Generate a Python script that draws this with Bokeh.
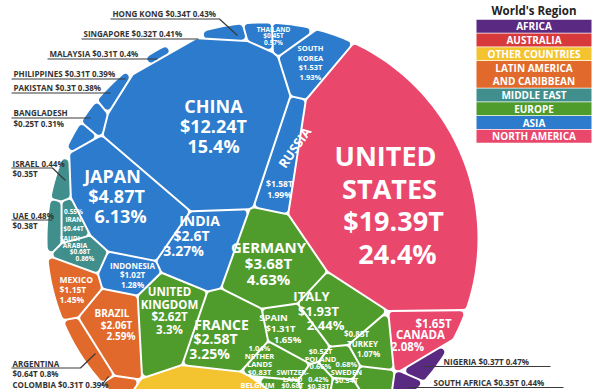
import math
from bokeh.plotting import figure
from bokeh.models import ColumnDataSource, Range1d
from bokeh.core.properties import value, field
from bokeh.embed import file_html
from bokeh.resources import INLINE

# ---------------- data ----------------
regions = ["AFRICA", "AUSTRALIA", "OTHER COUNTRIES", "LATIN AMERICA AND CARIBBEAN",
           "MIDDLE EAST", "EUROPE", "ASIA", "NORTH AMERICA"]
region_colors = ["#5a2a82", "#d8393a", "#f4c430", "#e0692b",
                 "#418f8c", "#4f9c2c", "#2c7bcc", "#e9476c"]

countries = ["UNITED STATES", "CANADA",
             "CHINA", "JAPAN", "INDIA", "RUSSIA", "SOUTH KOREA", "INDONESIA", "THAILAND",
             "HONG KONG", "SINGAPORE", "MALAYSIA", "PHILIPPINES", "PAKISTAN", "BANGLADESH",
             "SAUDI ARABIA", "IRAN", "UAE", "ISRAEL",
             "GERMANY", "UNITED KINGDOM", "FRANCE", "ITALY", "SPAIN", "TURKEY", "NETHERLANDS",
             "SWITZERLAND", "SWEDEN", "POLAND", "BELGIUM", "IRELAND",
             "BRAZIL", "MEXICO", "ARGENTINA", "COLOMBIA",
             "NIGERIA", "SOUTH AFRICA",
             "AUSTRALIA", "OTHER COUNTRIES"]
country_region = ["NORTH AMERICA", "NORTH AMERICA",
                  "ASIA", "ASIA", "ASIA", "ASIA", "ASIA", "ASIA", "ASIA",
                  "ASIA", "ASIA", "ASIA", "ASIA", "ASIA", "ASIA",
                  "MIDDLE EAST", "MIDDLE EAST", "MIDDLE EAST", "MIDDLE EAST",
                  "EUROPE", "EUROPE", "EUROPE", "EUROPE", "EUROPE", "EUROPE", "EUROPE",
                  "EUROPE", "EUROPE", "EUROPE", "EUROPE", "EUROPE",
                  "LATIN AMERICA AND CARIBBEAN", "LATIN AMERICA AND CARIBBEAN",
                  "LATIN AMERICA AND CARIBBEAN", "LATIN AMERICA AND CARIBBEAN",
                  "AFRICA", "AFRICA",
                  "AUSTRALIA", "OTHER COUNTRIES"]
gdp_trillions = [19.39, 1.65,
                 12.24, 4.87, 2.6, 1.58, 1.53, 1.02, 0.45,
                 0.34, 0.32, 0.31, 0.31, 0.3, 0.25,
                 0.68, 0.44, 0.38, 0.35,
                 3.68, 2.62, 2.58, 1.93, 1.31, 0.85, 0.83,
                 0.68, 0.54, 0.52, 0.49, 0.33,
                 2.06, 1.15, 0.64, 0.31,
                 0.37, 0.35,
                 None, None]
gdp_share_pct = [24.4, 2.08,
                 15.4, 6.13, 3.27, 1.99, 1.93, 1.28, 0.57,
                 0.43, 0.41, 0.4, 0.39, 0.38, 0.31,
                 0.86, 0.55, 0.48, 0.44,
                 4.63, 3.3, 3.25, 2.44, 1.65, 1.07, 1.04,
                 0.86, 0.68, 0.66, 0.62, 0.42,
                 2.59, 1.45, 0.8, 0.39,
                 0.47, 0.44,
                 1.7, 7.6]

# ---------------- layout ----------------
WIDTH, HEIGHT = 600, 389
CX, CY, RAD = 262.0, 238.0, 216.0
GAP, CORNER = 2.0, 3.5

SITES = {
    "UNITED STATES": (400, 165), "CANADA": (402, 335),
    "CHINA": (200, 118), "JAPAN": (140, 188), "INDIA": (204, 232), "RUSSIA": (290, 148),
    "SOUTH KOREA": (305, 85), "INDONESIA": (124, 268), "THAILAND": (270, 36),
    "HONG KONG": (236, 37), "SINGAPORE": (204, 46), "MALAYSIA": (167, 60),
    "PHILIPPINES": (138, 79), "PAKISTAN": (116, 97), "BANGLADESH": (100, 116),
    "SAUDI ARABIA": (84, 250), "IRAN": (76, 221), "UAE": (55, 221), "ISRAEL": (63, 191),
    "GERMANY": (268, 255), "UNITED KINGDOM": (170, 315), "FRANCE": (228, 335),
    "ITALY": (314, 298), "SPAIN": (278, 325), "TURKEY": (350, 340), "NETHERLANDS": (258, 362),
    "SWITZERLAND": (290, 385), "SWEDEN": (346, 372), "POLAND": (320, 357),
    "BELGIUM": (255, 395), "IRELAND": (318, 390),
    "BRAZIL": (114, 318), "MEXICO": (72, 283), "ARGENTINA": (82, 338), "COLOMBIA": (105, 378),
    "NIGERIA": (415, 357), "SOUTH AFRICA": (405, 380),
    "AUSTRALIA": (335, 440), "OTHER COUNTRIES": (215, 450),
}

# in-cell labels: x, y, font px, line height, order, slant, align, name lines
LABELS = {
    "UNITED STATES": (391, 204, 27, 32.5, "NVP", 4, "center", ["UNITED", "STATES"]),
    "CANADA": (420, 334, 11.5, 11.5, "VNP", -13, "center", None),
    "CHINA": (213, 125, 18, 20, "NVP", 0, "center", None),
    "JAPAN": (116, 195, 18, 20, "NVP", 4, "center", None),
    "INDIA": (191, 235, 14, 15, "NVP", -8, "center", None),
    "RUSSIA": (279, 188.5, 8.5, 11, "VP", 0, "center", None),
    "SOUTH KOREA": (310, 62, 7.5, 9.5, "NVP", 0, "center", ["SOUTH", "KOREA"]),
    "INDONESIA": (132, 274, 8, 9.5, "NVP", 0, "center", None),
    "THAILAND": (273, 35, 6.5, 6.5, "NVP", 0, "center", None),
    "SAUDI ARABIA": (77, 248, 6.5, 6.7, "NVP", 5, "center", ["SAUDI", "ARABIA"]),
    "IRAN": (73, 219, 6.5, 8.5, "PNV", 0, "center", None),
    "GERMANY": (268, 262, 15, 16, "NVP", 0, "center", None),
    "UNITED KINGDOM": (169, 310, 11.5, 12.4, "NVP", 0, "center", ["UNITED", "KINGDOM"]),
    "FRANCE": (215, 338, 14, 14.5, "NVP", -6, "center", None),
    "ITALY": (318, 310, 13, 14.5, "NVP", 7, "center", None),
    "SPAIN": (280, 328, 9.5, 11, "NVP", 7, "center", None),
    "TURKEY": (362, 343, 8, 10, "VNP", 6, "center", None),
    "NETHERLANDS": (259, 359, 7.5, 8, "PNV", 0, "center", ["NETHER", "LANDS"]),
    "SWITZERLAND": (292, 378.5, 7, 6.5, "NV", 0, "center", ["SWITZER-", "LAND"]),
    "SWEDEN": (346, 371, 7.5, 8, "PNV", 0, "center", None),
    "POLAND": (320, 358, 7.5, 7.5, "VNP", 0, "center", None),
    "BELGIUM": (257, 384, 7.5, 8, "N", 0, "center", None),
    "IRELAND": (318, 382, 7, 7, "PV", 0, "center", None),
    "BRAZIL": (116, 324, 10, 11.5, "NVP", 4.5, "center", None),
    "MEXICO": (59, 289, 8.5, 10, "NVP", 0, "left", None),
}
ROTATED_NAMES = {"RUSSIA": (294, 147, 13, 55)}

# outside annotations: text lines (x, y, template), underline+leader path
ANNOT = {
    "HONG KONG": ([(112, 13, "{n}  {v}  {p}")], [(110, 18.5), (219, 18.5), (237, 35)]),
    "SINGAPORE": ([(83, 33, "{n} {v}  {p}")], [(81, 38.5), (198, 38.5)]),
    "MALAYSIA": ([(49, 53, "{n}  {v}  {p}")], [(47, 58.5), (157, 58.5)]),
    "PHILIPPINES": ([(13, 73, "{n} {v}  {p}")], [(11, 78.5), (125, 78.5)]),
    "PAKISTAN": ([(13, 87, "{n}  {v}  {p}")], [(11, 92.5), (110, 92.5)]),
    "BANGLADESH": ([(13, 112, "{n}"), (13, 123, "{v}  {p}")], [(11, 117.5), (90, 117.5)]),
    "ISRAEL": ([(12, 162.5, "{n} {p}"), (12, 173, "{v}")], [(11, 167.5), (52, 167.5), (65, 180)]),
    "UAE": ([(12, 214.5, "{n} {p}"), (12, 225, "{v}")], [(11, 219.5), (52, 219.5)]),
    "ARGENTINA": ([(12, 362.5, "{n}"), (12, 373, "{v} {p}")], [(11, 367.5), (80, 367.5), (95, 353)]),
    "COLOMBIA": ([(12, 384, "{n} {v} {p}")], [(101, 385), (108, 376)]),
    "NIGERIA": ([(443, 360.5, "{n} {v} {p}")], [(423, 366), (550, 366)]),
    "SOUTH AFRICA": ([(433, 381.5, "{n} {v} {p}")], [(408, 387), (563, 387)]),
}

LEG_X0, LEG_X1, LEG_Y0, LEG_PITCH = 476, 591, 19.3, 13.75
LEGEND_LINES = {"LATIN AMERICA AND CARIBBEAN": ["LATIN AMERICA", "AND CARIBBEAN"]}

# ---------------- geometry: power diagram in a circle ----------------
def clip(poly, a, b, c, lab):
    out = []
    n = len(poly)
    for k in range(n):
        x1, y1, l1 = poly[k]
        x2, y2, _ = poly[(k + 1) % n]
        d1 = a * x1 + b * y1 - c
        d2 = a * x2 + b * y2 - c
        if d1 <= 0:
            out.append((x1, y1, l1))
            if d2 > 0:
                t = d1 / (d1 - d2)
                out.append((x1 + t * (x2 - x1), y1 + t * (y2 - y1), lab))
        elif d2 <= 0:
            t = d1 / (d1 - d2)
            out.append((x1 + t * (x2 - x1), y1 + t * (y2 - y1), l1))
    return out


def seg_area(ax, ay, bx, by, r):
    da = math.hypot(ax, ay)
    db = math.hypot(bx, by)
    if da <= r and db <= r:
        return 0.5 * (ax * by - ay * bx)

    def sector(px, py, qx, qy):
        return 0.5 * r * r * math.atan2(px * qy - py * qx, px * qx + py * qy)
    dx, dy = bx - ax, by - ay
    A = dx * dx + dy * dy
    if A == 0:
        return 0.0
    B = ax * dx + ay * dy
    C = ax * ax + ay * ay - r * r
    disc = B * B - A * C
    if disc <= 0:
        return sector(ax, ay, bx, by)
    sq = math.sqrt(disc)
    t1 = (-B - sq) / A
    t2 = (-B + sq) / A
    if t1 >= 1 or t2 <= 0:
        return sector(ax, ay, bx, by)
    t1c, t2c = max(t1, 0.0), min(t2, 1.0)
    p1x, p1y = ax + t1c * dx, ay + t1c * dy
    p2x, p2y = ax + t2c * dx, ay + t2c * dy
    res = 0.5 * (p1x * p2y - p1y * p2x)
    if t1 > 0:
        res += sector(ax, ay, p1x, p1y)
    if t2 < 1:
        res += sector(p2x, p2y, bx, by)
    return res


def disk_area(P):
    s = 0.0
    n = len(P)
    for k in range(n):
        x1, y1, _ = P[k]
        x2, y2, _ = P[(k + 1) % n]
        s += seg_area(x1 - CX, y1 - CY, x2 - CX, y2 - CY, RAD)
    return abs(s)


S = [SITES[c] for c in countries]
N = len(S)
dist = [[max(math.hypot(S[i][0] - S[j][0], S[i][1] - S[j][1]), 1e-3) for j in range(N)]
        for i in range(N)]
order = [sorted([j for j in range(N) if j != i], key=lambda j: dist[i][j]) for i in range(N)]
BOX = [(CX - RAD - 2, CY - RAD - 2, -1), (CX + RAD + 2, CY - RAD - 2, -1),
       (CX + RAD + 2, CY + RAD + 2, -1), (CX - RAD - 2, CY + RAD + 2, -1)]


def power_cell(i, Wt):
    xi, yi = S[i]
    P = BOX
    for j in order[i]:
        xj, yj = S[j]
        a = 2 * (xj - xi)
        b = 2 * (yj - yi)
        c = (xj * xj + yj * yj) - (xi * xi + yi * yi) - Wt[j] + Wt[i]
        P = clip(P, a, b, c, j)
        if not P:
            break
    return P


tot = sum(gdp_share_pct)
TARGET = [s / tot * math.pi * RAD * RAD for s in gdp_share_pct]
Wt = [0.0] * N
for it in range(180):
    newW = Wt[:]
    for i in range(N):
        P = power_cell(i, Wt)
        if len(P) < 3:
            newW[i] = Wt[i] + TARGET[i]
            continue
        A = disk_area(P)
        D = 0.0
        for k in range(len(P)):
            x1, y1, l = P[k]
            x2, y2, _ = P[(k + 1) % len(P)]
            if l >= 0:
                D += math.hypot(x2 - x1, y2 - y1) / (2 * dist[i][l])
        newW[i] = Wt[i] + 0.5 * (TARGET[i] - A) / max(D, 0.3)
    Wt = newW

NC = 240
circle_planes = []
for k in range(NC):
    m = 2 * math.pi * (k + 0.5) / NC
    nx, ny = math.cos(m), math.sin(m)
    circle_planes.append((nx, ny, RAD * math.cos(math.pi / NC) + nx * CX + ny * CY))


def inset(P, d):
    n = len(P)
    sa = sum(P[k][0] * P[(k + 1) % n][1] - P[(k + 1) % n][0] * P[k][1] for k in range(n))
    sgn = 1 if sa > 0 else -1
    Q = P
    for k in range(n):
        x1, y1, _ = P[k]
        x2, y2, _ = P[(k + 1) % n]
        L = math.hypot(x2 - x1, y2 - y1)
        if L < 1e-7:
            continue
        nx, ny = sgn * (y2 - y1) / L, -sgn * (x2 - x1) / L
        Q = clip(Q, nx, ny, nx * x1 + ny * y1 - d, -1)
        if not Q:
            break
    return Q


reg_color = dict(zip(regions, region_colors))
xs, ys, cols = [], [], []
for i in range(N):
    P = power_cell(i, Wt)
    for (a, b, c) in circle_planes:
        if not P:
            break
        P = clip(P, a, b, c, -1)
    if len(P) < 3:
        continue
    Q = inset(P, GAP / 2 + CORNER)
    if len(Q) < 3:
        continue
    xs.append([q[0] for q in Q])
    ys.append([q[1] for q in Q])
    cols.append(reg_color[country_region[i]])

# ---------------- figure ----------------
p = figure(width=WIDTH, height=HEIGHT, x_range=Range1d(0, WIDTH), y_range=Range1d(HEIGHT, 0),
           toolbar_location=None, output_backend="svg", min_border=0,
           x_axis_location=None, y_axis_location=None)
p.grid.visible = False
p.outline_line_color = None
p.background_fill_color = "white"
p.border_fill_color = "white"

p.patches(xs="xs", ys="ys", fill_color="c", line_color="c", line_width=2 * CORNER,
          line_join="round", source=ColumnDataSource(dict(xs=xs, ys=ys, c=cols)))


def fv(v):
    return "$%sT" % format(v, "g")


def fp(v):
    return "%s%%" % format(v, "g")


FONT = value("Open Sans")
lab = {"center": dict(x=[], y=[], t=[], s=[]), "left": dict(x=[], y=[], t=[], s=[])}
for i, name in enumerate(countries):
    if name not in LABELS:
        continue
    x, y, fs, lh, odr, slant, align, nlines = LABELS[name]
    lines = []
    for tok in odr:
        if tok == "N":
            lines += nlines if nlines else [name]
        elif tok == "V":
            lines.append(fv(gdp_trillions[i]))
        else:
            lines.append(fp(gdp_share_pct[i]))
    n = len(lines)
    for k, t in enumerate(lines):
        off = k - (n - 1) / 2
        d = lab[align]
        d["x"].append(x + off * slant)
        d["y"].append(y + off * lh)
        d["t"].append(t)
        d["s"].append("%gpx" % fs)
for align, d in lab.items():
    p.text(x="x", y="y", text="t", text_font_size=field("s"), source=ColumnDataSource(d),
           text_font=FONT, text_font_style="bold", text_color="white",
           text_align=align, text_baseline="middle")

rx, ry, rt, rs, ra = [], [], [], [], []
for name, (x, y, fs, ang) in ROTATED_NAMES.items():
    rx.append(x); ry.append(y); rt.append(name); rs.append("%gpx" % fs); ra.append(ang)
p.text(x="x", y="y", text="t", angle="a", angle_units="deg", text_font_size=field("s"),
       source=ColumnDataSource(dict(x=rx, y=ry, t=rt, s=rs, a=ra)),
       text_font=FONT, text_font_style="bold", text_color="white",
       text_align="center", text_baseline="middle")

# annotations
ax_, ay_, at_ = [], [], []
lxs, lys = [], []
for i, name in enumerate(countries):
    if name not in ANNOT:
        continue
    tl, path = ANNOT[name]
    for (x, y, tpl) in tl:
        ax_.append(x); ay_.append(y)
        at_.append(tpl.format(n=name, v=fv(gdp_trillions[i]), p=fp(gdp_share_pct[i])))
    lxs.append([q[0] for q in path]); lys.append([q[1] for q in path])
p.multi_line(xs="xs", ys="ys", source=ColumnDataSource(dict(xs=lxs, ys=lys)),
             line_color="#3a3a3a", line_width=1.2)
p.text(x="x", y="y", text="t", source=ColumnDataSource(dict(x=ax_, y=ay_, t=at_)),
       text_font=FONT, text_font_style="bold", text_font_size="8px", text_color="#333333",
       text_align="left", text_baseline="middle")

# legend
ql, qr, qt, qb, qc = [], [], [], [], []
lgx, lgy, lgt = [], [], []
yy = LEG_Y0
for reg, col in zip(regions, region_colors):
    lines = LEGEND_LINES.get(reg, [reg])
    h = LEG_PITCH * len(lines)
    ql.append(LEG_X0); qr.append(LEG_X1); qt.append(yy); qb.append(yy + h - 0.8); qc.append(col)
    for k, t in enumerate(lines):
        lgx.append((LEG_X0 + LEG_X1) / 2)
        lgy.append(yy + (h - 0.8) / 2 + (k - (len(lines) - 1) / 2) * 13)
        lgt.append(t)
    yy += h
p.quad(left="l", right="r", top="t", bottom="b", fill_color="c", line_color=None,
       source=ColumnDataSource(dict(l=ql, r=qr, t=qt, b=qb, c=qc)))
p.text(x="x", y="y", text="t", source=ColumnDataSource(dict(x=lgx, y=lgy, t=lgt)),
       text_font=FONT, text_font_style="bold", text_font_size="10px", text_color="white",
       text_align="center", text_baseline="middle")
p.text(x=[(LEG_X0 + LEG_X1) / 2], y=[10], text=["World's Region"],
       text_font=FONT, text_font_style="bold", text_font_size="11.5px", text_color="#222222",
       text_align="center", text_baseline="middle")

open("out.html", "w").write(file_html(p, INLINE))
